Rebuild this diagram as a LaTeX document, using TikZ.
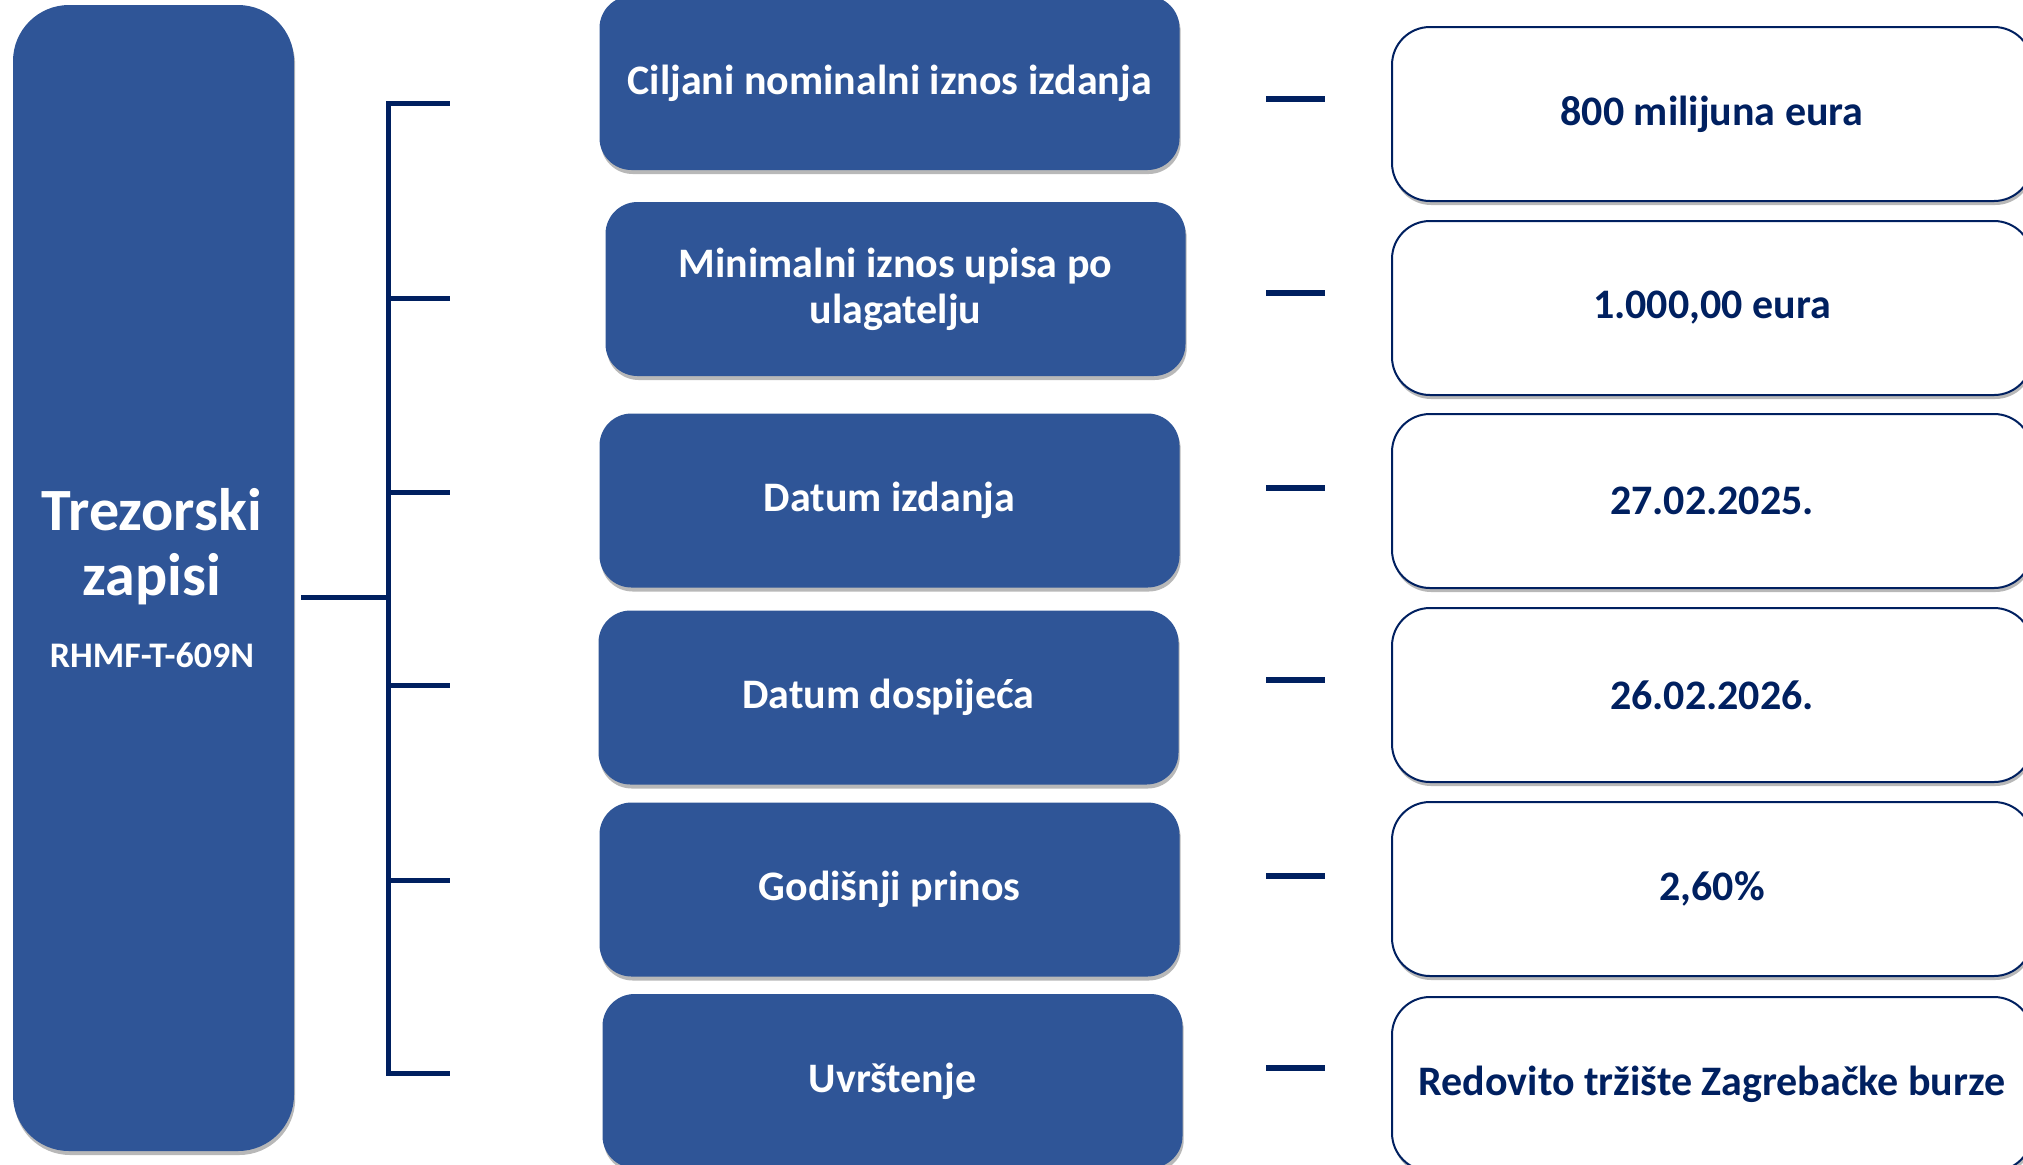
\documentclass[tikz,border=0pt]{standalone}
\usepackage{fontspec}
\setmainfont{Carlito}
\usetikzlibrary{shadows}
\definecolor{boxblue}{HTML}{2F5597}
\definecolor{navy}{HTML}{002060}
\begin{document}
\begin{tikzpicture}[x=0.5pt,y=-0.5pt,
  shad/.style={drop shadow={shadow xshift=0.6pt, shadow yshift=-2pt, fill=black, opacity=0.28}},
  mainbox/.style={rounded corners=28pt, fill=boxblue, draw=none, minimum width=140.5pt, minimum height=573pt, inner sep=0pt, shad},
  bluebox/.style={rounded corners=16pt, fill=boxblue, draw=none, text=white, minimum width=290pt, minimum height=87pt, inner sep=0pt, align=center, font=\fontsize{21}{23}\selectfont\bfseries, shad},
  valbox/.style={rounded corners=19pt, fill=white, draw=navy, line width=1pt, text=navy, minimum width=320pt, minimum height=87pt, inner sep=0pt, align=center, font=\fontsize{21}{23}\selectfont\bfseries, shad},
  bracket/.style={draw=navy, line width=2.5pt},
  dashline/.style={draw=navy, line width=2.6pt},
  titletext/.style={text=white, inner sep=0pt, anchor=base, font=\fontsize{30}{36}\selectfont\bfseries},
  subtext/.style={text=white, inner sep=0pt, anchor=base, font=\fontsize{18}{22}\selectfont\bfseries}]
\useasboundingbox (0,0) rectangle (2023,1164);
\fill[white] (0,0) rectangle (2023,1164);

% left main box
\node[mainbox] (lb) at (153.5,578) {};
\node[titletext] (t1) at (152,530) {Trezorski};
\node[titletext] (t2) at (152,595) {zapisi};
\node[subtext] (t3) at (152,667) {RHMF-T-609N};

% middle boxes
\node[bluebox] (p1) at (889.5,83) {Ciljani nominalni iznos izdanja};
\node[bluebox] (p2) at (895.5,289) {Minimalni iznos upisa po\\ulagatelju};
\node[bluebox] (p3) at (889.5,500.5) {Datum izdanja};
\node[bluebox] (p4) at (888.5,697.5) {Datum dospijeća};
\node[bluebox] (p5) at (889.5,889.5) {Godišnji prinos};
\node[bluebox] (p6) at (892.5,1081) {Uvrštenje};

% value boxes
\node[valbox] (v1) at (1712,114) {800 milijuna eura};
\node[valbox] (v2) at (1712,308) {1.000,00 eura};
\node[valbox] (v3) at (1712,501) {27.02.2025.};
\node[valbox] (v4) at (1712,695) {26.02.2026.};
\node[valbox] (v5) at (1712,889) {2,60\%};
\node[valbox] (v6) at (1712,1084) {Redovito tržište Zagrebačke burze};

% bracket
\coordinate (stem) at (301,597);
\coordinate (spine) at (388,597);
\coordinate (bt) at (388,103);
\coordinate (bb) at (388,1073);
\draw[bracket] (stem) -- (spine);
\draw[bracket] (bt) -- (bb);
\foreach \y [count=\i] in {103,298,492,685,880,1073}{
  \coordinate (k\i a) at (386,\y);
  \coordinate (k\i b) at (450,\y);
  \draw[bracket] (k\i a) -- (k\i b);
}

% dashes
\foreach \y [count=\i] in {99,293,488,680,876,1068}{
  \coordinate (d\i a) at (1266,\y);
  \coordinate (d\i b) at (1325,\y);
  \draw[dashline] (d\i a) -- (d\i b);
}
\end{tikzpicture}
\end{document}
